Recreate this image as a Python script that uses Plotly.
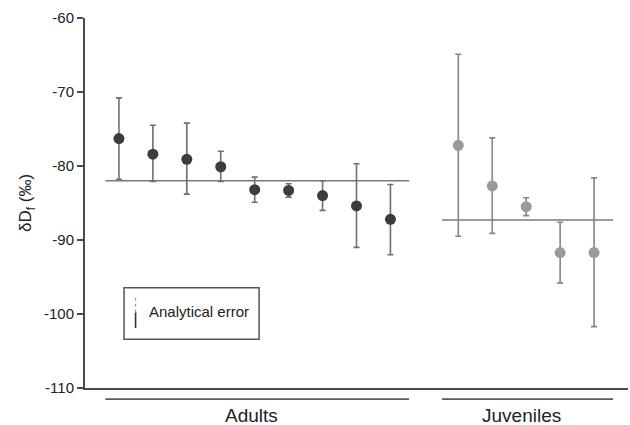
import plotly.graph_objects as go

# ---- data ----
adult_x = [1, 2, 3, 4, 5, 6, 7, 8, 9]
adult_mean = [-76.3, -78.4, -79.1, -80.1, -83.2, -83.3, -84.0, -85.4, -87.2]
adult_upper = [-70.8, -74.5, -74.2, -78.0, -81.5, -82.4, -82.0, -79.7, -82.5]
adult_lower = [-81.8, -82.1, -83.8, -82.1, -84.9, -84.2, -86.0, -91.0, -92.0]

juv_x = [11, 12, 13, 14, 15]
juv_mean = [-77.2, -82.7, -85.5, -91.7, -91.7]
juv_upper = [-64.9, -76.2, -84.3, -87.6, -81.6]
juv_lower = [-89.5, -89.1, -86.7, -95.8, -101.7]

adult_avg = -82.0
juv_avg = -87.3

group_labels = ["Adults", "Juveniles"]
group_spans = [(0.6, 9.55), (10.52, 15.56)]

y_ticks = [-60, -70, -80, -90, -100, -110]

FONT = "Liberation Sans, Arial, Helvetica, sans-serif"
AXC = "#4a4a4a"

fig = go.Figure()


def add_series(xs, mean, up, lo, mcolor, ecolor):
    fig.add_trace(go.Scatter(
        x=xs, y=mean, mode="markers",
        marker=dict(size=11, color=mcolor),
        error_y=dict(type="data", symmetric=False,
                     array=[u - m for u, m in zip(up, mean)],
                     arrayminus=[m - l for m, l in zip(mean, lo)],
                     color=ecolor, thickness=1.6, width=3),
        showlegend=False, cliponaxis=False, hoverinfo="skip",
    ))


add_series(adult_x, adult_mean, adult_upper, adult_lower, "#3c3c3c", "#707070")
add_series(juv_x, juv_mean, juv_upper, juv_lower, "#9a9a9a", "#858585")

shapes = []
# group mean lines
for (x0, x1), avg in zip(group_spans, [adult_avg, juv_avg]):
    shapes.append(dict(type="line", xref="x", yref="y", x0=x0, x1=x1, y0=avg, y1=avg,
                       line=dict(color="#7a7a7a", width=1.6), layer="below"))
# group bracket lines below axis
for (x0, x1) in group_spans:
    shapes.append(dict(type="line", xref="x", yref="paper", x0=x0, x1=x1, y0=-0.03, y1=-0.03,
                       line=dict(color="#5a5a5a", width=1.6)))
# legend box
shapes.append(dict(type="rect", xref="x", yref="y", x0=1.15, x1=5.13, y0=-96.45, y1=-103.4,
                   line=dict(color="#555555", width=1.5), fillcolor="rgba(0,0,0,0)"))
shapes.append(dict(type="line", xref="x", yref="y", x0=1.49, x1=1.49, y0=-97.8, y1=-99.8,
                   line=dict(color="#9a9a9a", width=1.2, dash="dot")))
shapes.append(dict(type="line", xref="x", yref="y", x0=1.49, x1=1.49, y0=-99.8, y1=-101.9,
                   line=dict(color="#333333", width=1.6)))

annotations = []
for label, (x0, x1) in zip(group_labels, group_spans):
    annotations.append(dict(x=(x0 + x1) / 2, y=-0.073, xref="x", yref="paper",
                            yanchor="middle", xshift=-6, text=label, showarrow=False,
                            font=dict(family=FONT, size=19, color="#222222")))
annotations.append(dict(x=1.82, y=-99.7, xref="x", yref="y", text="Analytical error",
                        showarrow=False, xanchor="left", yanchor="middle",
                        font=dict(family=FONT, size=15, color="#222222")))

fig.update_layout(
    width=630, height=425,
    margin=dict(l=85, r=2, t=18, b=37),
    plot_bgcolor="white", paper_bgcolor="white",
    shapes=shapes, annotations=annotations,
    xaxis=dict(range=[0, 16], showgrid=False, zeroline=False, showticklabels=False,
               ticks="", showline=True, linecolor=AXC, linewidth=2),
    yaxis=dict(range=[-110, -60], tickvals=y_ticks, ticktext=[str(v) for v in y_ticks],
               showgrid=False, zeroline=False, showline=True, linecolor=AXC, linewidth=2,
               ticks="outside", ticklen=6, tickwidth=1.5, tickcolor=AXC,
               tickfont=dict(family=FONT, size=15, color="#222222"),
               title=dict(text="δD<sub>f</sub> (‰)", standoff=8,
                          font=dict(family=FONT, size=17, color="#222222"))),
    font=dict(family=FONT),
)

fig.write_html("out.html", config={"displayModeBar": False},
               post_script="document.body.style.margin='0';")
